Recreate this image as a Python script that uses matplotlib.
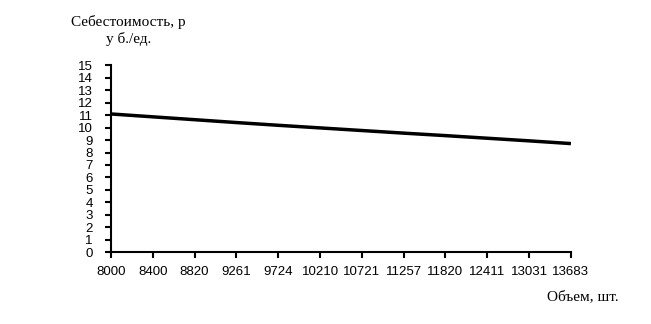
import matplotlib
matplotlib.use("Agg")
import matplotlib.pyplot as plt

plt.rcParams['font.family'] = ['Liberation Serif', 'DejaVu Serif']

# объем выпуска, шт.
volumes = ['8000', '8400', '8820', '9261', '9724', '10210',
           '10721', '11257', '11820', '12411', '13031', '13683']
# себестоимость единицы, руб./ед.
unit_cost = [11.10, 10.87, 10.64, 10.41, 10.19, 9.98,
             9.77, 9.56, 9.36, 9.15, 8.94, 8.72]
y_ticks = list(range(0, 16))

fig = plt.figure(figsize=(6.51, 3.24), dpi=100)
ax = fig.add_axes([0.1705, 0.222, 0.7065, 0.576])

x = list(range(len(volumes)))
ax.plot(x, unit_cost, color='black', linewidth=2.5, solid_capstyle='butt')

ax.set_xlim(0, len(volumes) - 1)
ax.set_ylim(0, 15)
ax.set_xticks(x)
ax.set_xticklabels(volumes)
ax.set_yticks(y_ticks)

for side in ['top', 'right']:
    ax.spines[side].set_visible(False)
for side in ['left', 'bottom']:
    ax.spines[side].set_linewidth(1.5)

ax.tick_params(axis='x', direction='out', length=4, width=1.5, pad=6)
ax.tick_params(axis='y', direction='out', length=4, width=1.5, pad=9)
for lbl in ax.get_xticklabels() + ax.get_yticklabels():
    lbl.set_family(['Liberation Sans', 'DejaVu Sans'])
    lbl.set_fontsize(9.5)

fig.text(0.197, 0.905, 'Себестоимость, р\nу б./ед.', ha='center', va='center',
         fontsize=11, linespacing=1.3)
fig.text(0.895, 0.083, 'Объем, шт.', ha='center', va='center', fontsize=11)

fig.savefig('out.png', dpi=100)
